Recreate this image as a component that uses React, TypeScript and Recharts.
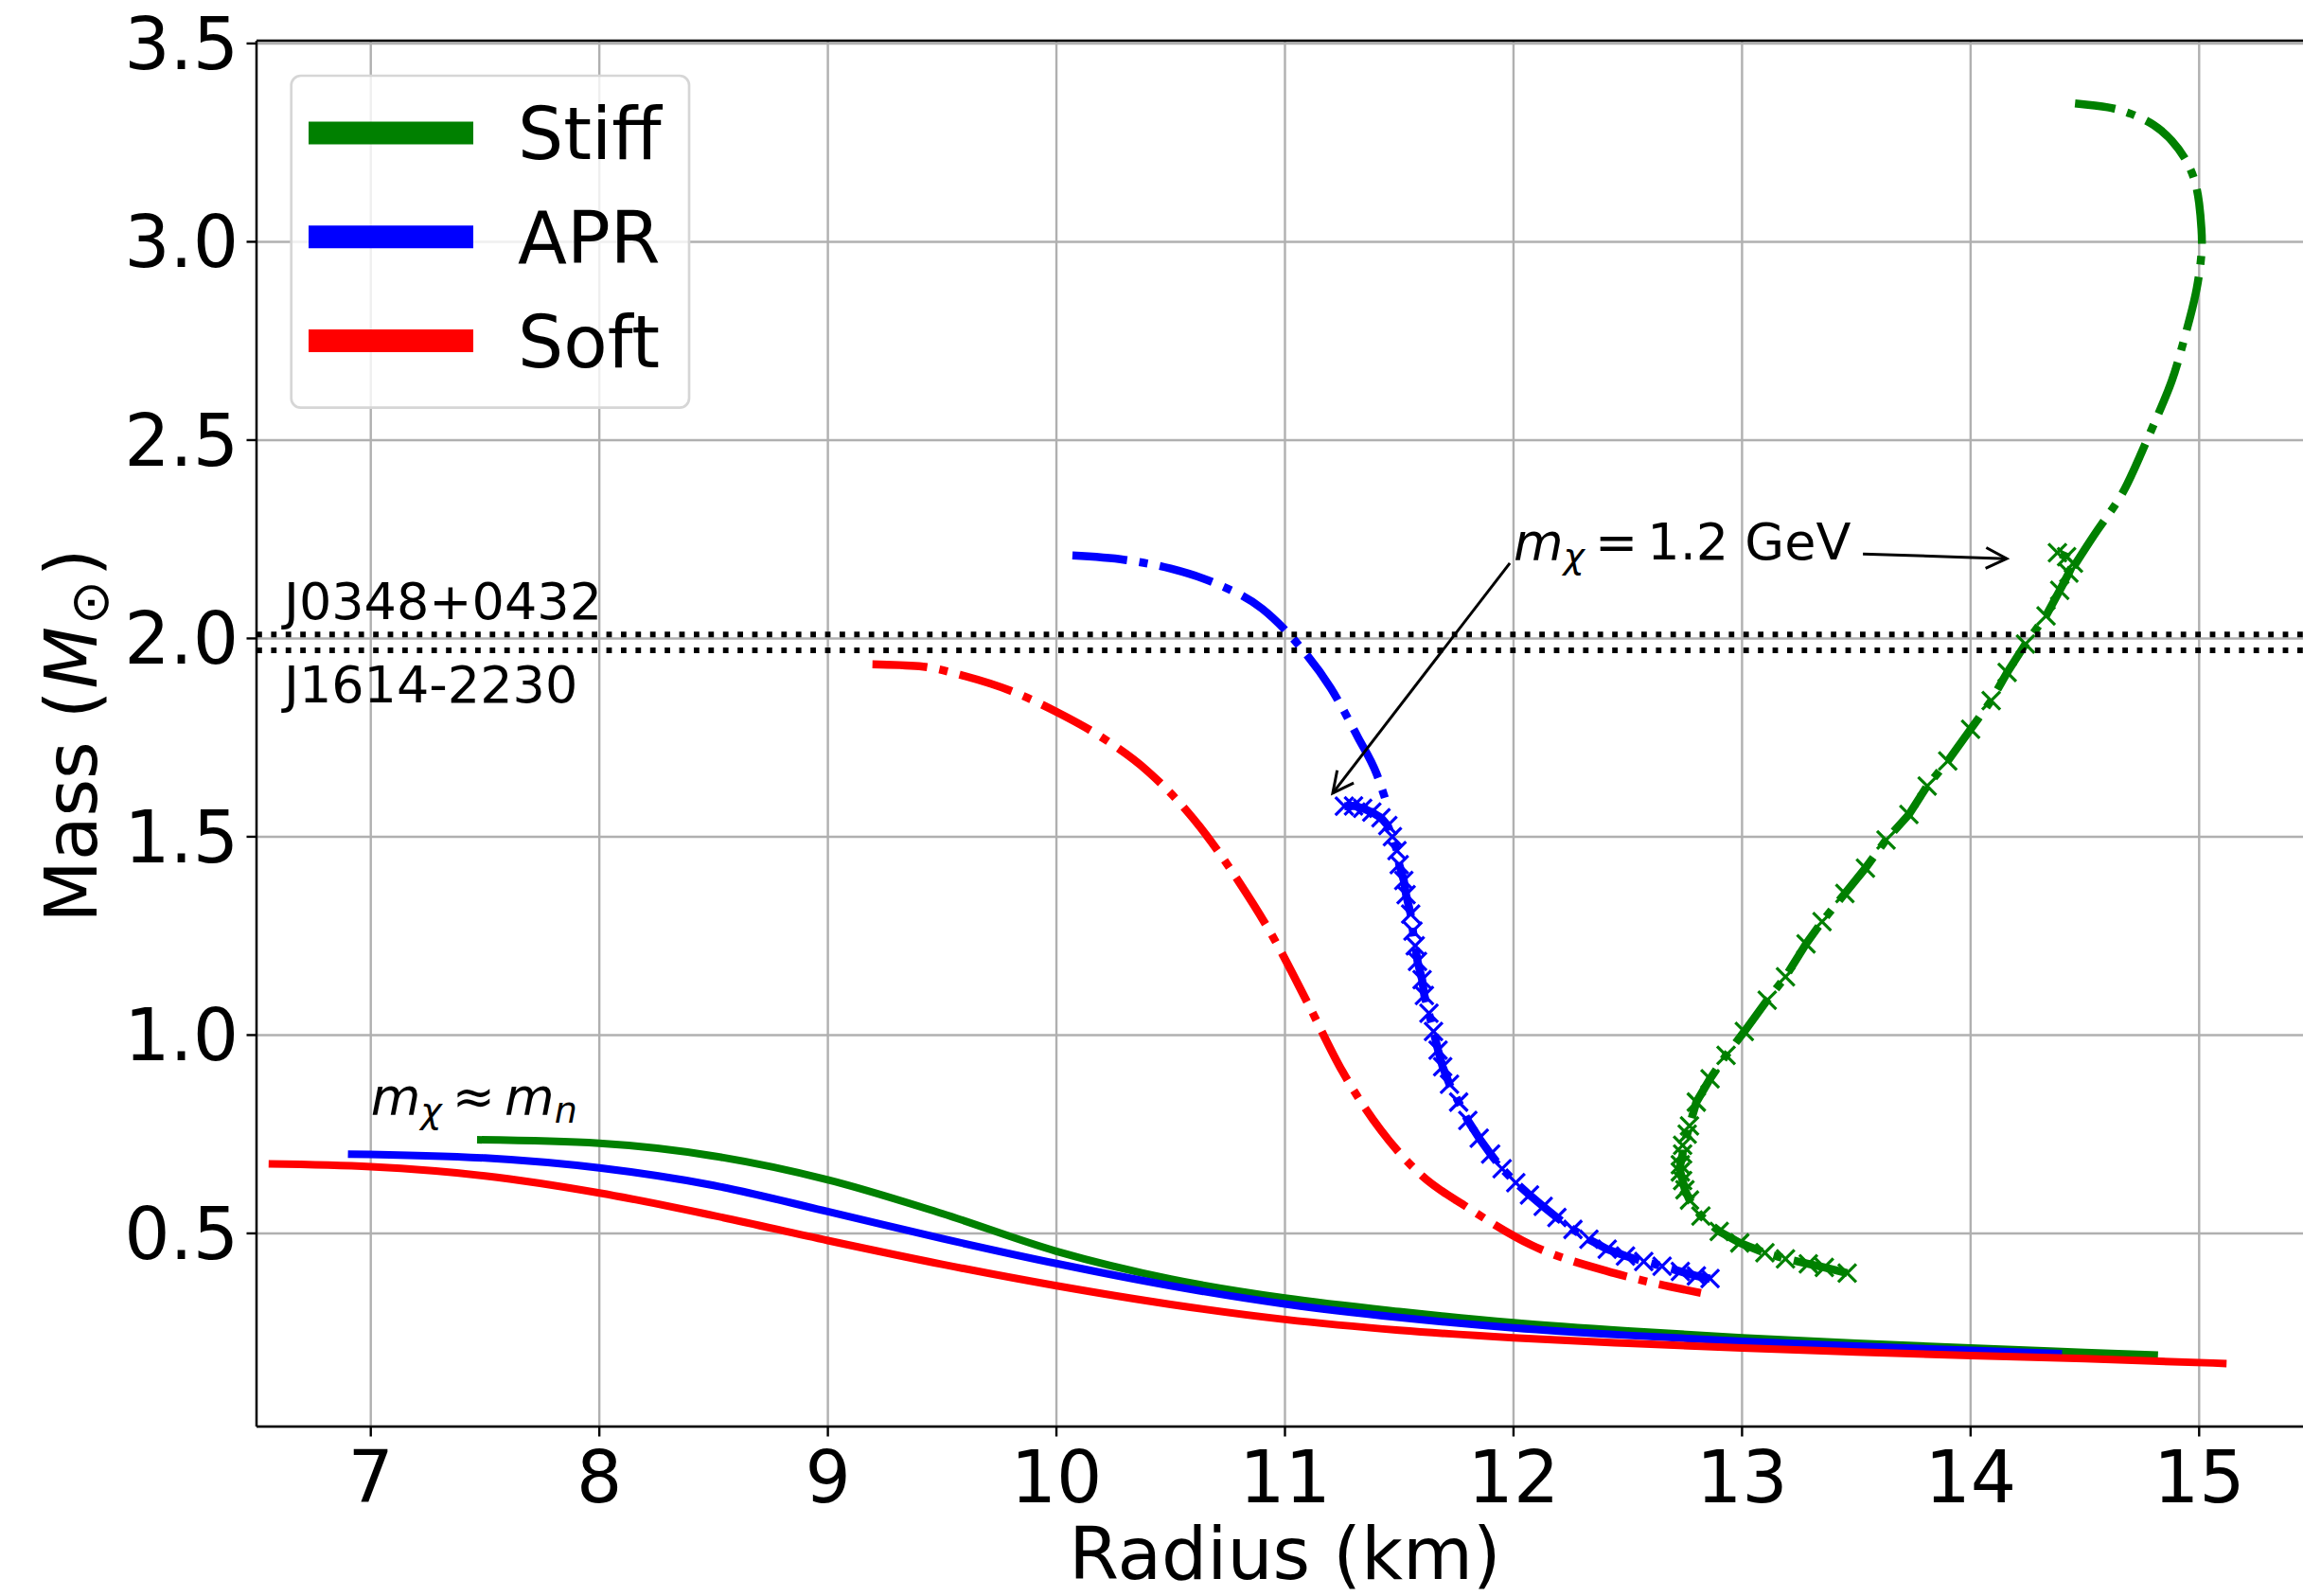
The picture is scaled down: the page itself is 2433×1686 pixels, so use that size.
import React from 'react';
import {
  ComposedChart,
  Line,
  Scatter,
  XAxis,
  YAxis,
  CartesianGrid,
  ReferenceLine,
  ReferenceDot,
  Label,
} from 'recharts';

const FONT = '"DejaVu Sans", sans-serif';

// [radius km, mass Msun]
// m_chi ~ m_n branch (solid)
const stiffLow = [[7.465, 0.736], [8.0, 0.727], [8.5, 0.695], [9.0, 0.635], [9.5, 0.55], [10.0, 0.455], [10.5, 0.385], [11.0, 0.337], [11.5, 0.303], [12.0, 0.275], [12.5, 0.254], [13.0, 0.237], [13.5, 0.223], [14.0, 0.211], [14.5, 0.2], [14.82, 0.193]];
const aprLow = [[6.9, 0.7], [7.5, 0.69], [8.0, 0.665], [8.5, 0.621], [9.0, 0.555], [9.5, 0.487], [10.0, 0.424], [10.5, 0.368], [11.0, 0.322], [11.5, 0.288], [12.0, 0.262], [12.5, 0.243], [13.0, 0.228], [13.5, 0.216], [14.0, 0.205], [14.4, 0.197]];
const softLow = [[6.553, 0.675], [7.0, 0.668], [7.5, 0.645], [8.0, 0.602], [8.5, 0.545], [9.0, 0.482], [9.5, 0.422], [10.0, 0.368], [10.5, 0.321], [11.0, 0.283], [11.5, 0.256], [12.0, 0.237], [12.5, 0.223], [13.0, 0.211], [13.5, 0.201], [14.0, 0.192], [14.5, 0.184], [15.12, 0.172]];

// m_chi = 1.2 GeV branch (dash-dot)
const stiffHigh = [[14.45, 2.18], [14.56, 2.277], [14.66, 2.362], [14.74, 2.458], [14.82, 2.564], [14.88, 2.649], [14.92, 2.724], [14.96, 2.809], [14.99, 2.884], [15.01, 2.969], [15.01, 3.033], [15.0, 3.097], [14.98, 3.155], [14.94, 3.208], [14.88, 3.255], [14.8, 3.295], [14.7, 3.323], [14.6, 3.339], [14.457, 3.349]];
const aprHigh = [[10.07, 2.209], [10.3, 2.198], [10.5, 2.176], [10.7, 2.138], [10.9, 2.075], [11.05, 1.99], [11.2, 1.875], [11.32, 1.75], [11.4, 1.66], [11.45, 1.575]];
const softHigh = [[9.195, 1.935], [9.4, 1.93], [9.6, 1.905], [9.8, 1.868], [10.0, 1.815], [10.2, 1.75], [10.4, 1.665], [10.6, 1.545], [10.8, 1.385], [10.95, 1.245], [11.1, 1.08], [11.25, 0.91], [11.42, 0.76], [11.6, 0.645], [11.8, 0.565], [12.08, 0.47], [12.44, 0.4], [12.82, 0.35]];

// scanned points (x markers)
const aprScan = [[11.26, 1.577], [11.3, 1.578], [11.34, 1.572], [11.38, 1.562], [11.42, 1.548], [11.45, 1.528], [11.47, 1.5], [11.49, 1.465], [11.5, 1.43], [11.52, 1.39], [11.53, 1.354], [11.55, 1.305], [11.56, 1.262], [11.57, 1.225], [11.58, 1.186], [11.6, 1.14], [11.61, 1.1], [11.63, 1.055], [11.65, 1.009], [11.67, 0.962], [11.69, 0.92], [11.72, 0.876], [11.76, 0.831], [11.8, 0.785], [11.85, 0.74], [11.9, 0.7], [11.95, 0.663], [12.01, 0.628], [12.07, 0.597], [12.13, 0.568], [12.19, 0.54], [12.26, 0.51], [12.33, 0.485], [12.41, 0.46], [12.49, 0.443], [12.57, 0.429], [12.65, 0.417], [12.73, 0.404], [12.8, 0.393], [12.86, 0.386]];
const stiffScan = [[13.46, 0.4], [13.36, 0.414], [13.29, 0.423], [13.19, 0.436], [13.1, 0.451], [12.99, 0.476], [12.9, 0.505], [12.82, 0.544], [12.77, 0.584], [12.75, 0.61], [12.74, 0.633], [12.73, 0.655], [12.73, 0.673], [12.74, 0.7], [12.74, 0.722], [12.76, 0.75], [12.77, 0.771], [12.8, 0.831], [12.86, 0.89], [12.93, 0.949], [13.01, 1.009], [13.11, 1.088], [13.19, 1.147], [13.28, 1.23], [13.35, 1.286], [13.45, 1.357], [13.54, 1.421], [13.63, 1.492], [13.73, 1.556], [13.81, 1.628], [13.9, 1.691], [14.0, 1.771], [14.09, 1.843], [14.16, 1.914], [14.24, 1.986], [14.33, 2.057], [14.39, 2.121], [14.43, 2.165], [14.45, 2.19], [14.42, 2.206], [14.38, 2.216]];

const xTicks = [7, 8, 9, 10, 11, 12, 13, 14, 15];
const yTicks = [0.5, 1.0, 1.5, 2.0, 2.5, 3.0, 3.5];

const pulsarMasses = [
  { name: 'J0348+0432', m: 2.01, labelAt: [6.62, 2.048] },
  { name: 'J1614-2230', m: 1.97, labelAt: [6.62, 1.838] },
];

const legendItems = [
  { name: 'Stiff', color: '#008000' },
  { name: 'APR', color: '#0000ff' },
  { name: 'Soft', color: '#ff0000' },
];

const toPts = (arr: number[][]) => arr.map(([r, m]) => ({ r, m }));

const DASHDOT = '58 13 9 13';
const GREEN = '#008000';
const BLUE = '#0000ff';
const RED = '#ff0000';
const BIG = 76;

const cross = (color: string) => (p: any) => {
  const { cx, cy } = p;
  const s = 9.5;
  return (
    <path
      d={`M${cx - s},${cy - s}L${cx + s},${cy + s}M${cx - s},${cy + s}L${cx + s},${cy - s}`}
      stroke={color}
      strokeWidth={3.2}
      fill="none"
    />
  );
};

const arrowShape = (p: any) => {
  const { x1, y1, x2, y2 } = p;
  const a = Math.atan2(y2 - y1, x2 - x1);
  const L = 22;
  const W = 11;
  const bx = x2 - L * Math.cos(a);
  const by = y2 - L * Math.sin(a);
  const px = -Math.sin(a) * W;
  const py = Math.cos(a) * W;
  return (
    <g>
      <line x1={x1} y1={y1} x2={x2} y2={y2} stroke="#000" strokeWidth={3} />
      <polyline
        points={`${bx + px},${by + py} ${x2},${y2} ${bx - px},${by - py}`}
        fill="none"
        stroke="#000"
        strokeWidth={3}
      />
    </g>
  );
};

const textLabel = (name: string) => (p: any) => (
  <text x={p.viewBox.x} y={p.viewBox.y} fontFamily={FONT} fontSize={54} fill="#000">
    {name}
  </text>
);

const mchiLabel = (p: any) => (
  <text x={p.viewBox.x} y={p.viewBox.y} fontFamily={FONT} fontSize={54} fill="#000">
    <tspan fontStyle="italic">m</tspan>
    <tspan fontStyle="italic" fontSize={38} dy={9}>χ</tspan>
    <tspan dy={-9} dx={11}>=</tspan>
    <tspan dx={10}>1.2 GeV</tspan>
  </text>
);

const mnLabel = (p: any) => (
  <text x={p.viewBox.x} y={p.viewBox.y} fontFamily={FONT} fontSize={54} fill="#000">
    <tspan fontStyle="italic">m</tspan>
    <tspan fontStyle="italic" fontSize={38} dy={9}>χ</tspan>
    <tspan dy={-9} dx={11}>≈</tspan>
    <tspan dx={10} fontStyle="italic">m</tspan>
    <tspan fontStyle="italic" fontSize={38} dy={9}>n</tspan>
  </text>
);

const yLabel = () => (
  <text
    x={102}
    y={777}
    transform="rotate(-90, 102, 777)"
    textAnchor="middle"
    fontFamily={FONT}
    fontSize={BIG}
    fill="#000"
  >
    <tspan>Mass (</tspan>
    <tspan fontStyle="italic" dx={2}>M</tspan>
    <tspan fontSize={56} dy={12} dx={2}>⊙</tspan>
    <tspan dy={-12} dx={4}>)</tspan>
  </text>
);

const App: React.FC = () => {
  const tickStyle = { fontSize: BIG, fontFamily: FONT, fill: '#000' };
  return (
    <div
      style={{
        position: 'absolute',
        left: 0,
        top: 0,
        width: 2433,
        height: 1686,
        overflow: 'hidden',
        background: '#fff',
      }}
    >
      <ComposedChart width={2444} height={1686} margin={{ top: 43, right: 0, bottom: 0, left: 0 }}>
        <CartesianGrid stroke="#b0b0b0" strokeWidth={2.4} />
        <XAxis
          type="number"
          dataKey="r"
          domain={[6.5, 15.5]}
          ticks={xTicks}
          allowDataOverflow
          height={179}
          tick={tickStyle}
          tickSize={10.5}
          tickMargin={16}
          axisLine={{ stroke: '#000', strokeWidth: 2.4 }}
          tickLine={{ stroke: '#000', strokeWidth: 2.4 }}
        >
          <Label
            value="Radius (km)"
            position="insideBottom"
            offset={18}
            style={{ fontSize: BIG, fontFamily: FONT, fill: '#000' }}
          />
        </XAxis>
        <YAxis
          type="number"
          dataKey="m"
          domain={[0.013, 3.507]}
          ticks={yTicks}
          allowDataOverflow
          width={271}
          tick={tickStyle}
          tickFormatter={(v: number) => v.toFixed(1)}
          tickSize={10.5}
          tickMargin={8.5}
          axisLine={{ stroke: '#000', strokeWidth: 2.4 }}
          tickLine={{ stroke: '#000', strokeWidth: 2.4 }}
          label={yLabel}
        />
        <ReferenceLine y={3.507} stroke="#000" strokeWidth={2.4} ifOverflow="visible" />

        <Line data={toPts(stiffLow)} dataKey="m" type="monotone" stroke={GREEN} strokeWidth={8} dot={false} activeDot={false} isAnimationActive={false} />
        <Line data={toPts(stiffHigh)} dataKey="m" type="natural" stroke={GREEN} strokeWidth={8.5} strokeDasharray={DASHDOT} dot={false} activeDot={false} isAnimationActive={false} />
        <Line data={toPts(stiffScan)} dataKey="m" type="linear" stroke={GREEN} strokeWidth={8.5} strokeDasharray={DASHDOT} dot={false} activeDot={false} isAnimationActive={false} />
        <Scatter data={toPts(stiffScan)} fill={GREEN} shape={cross(GREEN)} isAnimationActive={false} />

        <Line data={toPts(aprLow)} dataKey="m" type="monotone" stroke={BLUE} strokeWidth={8} dot={false} activeDot={false} isAnimationActive={false} />
        <Line data={toPts(aprHigh)} dataKey="m" type="monotone" stroke={BLUE} strokeWidth={8.5} strokeDasharray={DASHDOT} dot={false} activeDot={false} isAnimationActive={false} />
        <Line data={toPts(aprScan)} dataKey="m" type="linear" stroke={BLUE} strokeWidth={8.5} strokeDasharray={DASHDOT} dot={false} activeDot={false} isAnimationActive={false} />
        <Scatter data={toPts(aprScan)} fill={BLUE} shape={cross(BLUE)} isAnimationActive={false} />

        <Line data={toPts(softLow)} dataKey="m" type="monotone" stroke={RED} strokeWidth={8} dot={false} activeDot={false} isAnimationActive={false} />
        <Line data={toPts(softHigh)} dataKey="m" type="monotone" stroke={RED} strokeWidth={8.5} strokeDasharray={DASHDOT} dot={false} activeDot={false} isAnimationActive={false} />

        {pulsarMasses.map((p) => (
          <ReferenceLine key={p.name} y={p.m} stroke="#000" strokeWidth={5.8} strokeDasharray="5.8 9.6" />
        ))}
        {pulsarMasses.map((p) => (
          <ReferenceDot
            key={p.name + '-t'}
            x={p.labelAt[0]}
            y={p.labelAt[1]}
            r={0}
            fill="none"
            stroke="none"
            ifOverflow="visible"
            label={textLabel(p.name)}
          />
        ))}

        <ReferenceDot x={12.0} y={2.2} r={0} fill="none" stroke="none" ifOverflow="visible" label={mchiLabel} />
        <ReferenceDot x={7.0} y={0.8} r={0} fill="none" stroke="none" ifOverflow="visible" label={mnLabel} />
        <ReferenceLine
          segment={[{ x: 11.984, y: 2.19 }, { x: 11.209, y: 1.61 }]}
          ifOverflow="visible"
          shape={arrowShape}
        />
        <ReferenceLine
          segment={[{ x: 13.529, y: 2.213 }, { x: 14.158, y: 2.201 }]}
          ifOverflow="visible"
          shape={arrowShape}
        />
      </ComposedChart>

      <svg
        width={2433}
        height={1686}
        style={{ position: 'absolute', left: 0, top: 0, pointerEvents: 'none' }}
      >
        <rect
          x={307.7}
          y={80}
          width={420.3}
          height={350.7}
          rx={10}
          fill="#fff"
          fillOpacity={0.8}
          stroke="#d6d6d6"
          strokeWidth={2.7}
        />
        {legendItems.map((it, i) => {
          const cy = 140.5 + i * 109.8;
          return (
            <g key={it.name}>
              <line x1={326} x2={500} y1={cy} y2={cy} stroke={it.color} strokeWidth={24} />
              <text x={547} y={cy + 27.7} fontFamily={FONT} fontSize={BIG} fill="#000">
                {it.name}
              </text>
            </g>
          );
        })}
      </svg>
    </div>
  );
};

export default App;
